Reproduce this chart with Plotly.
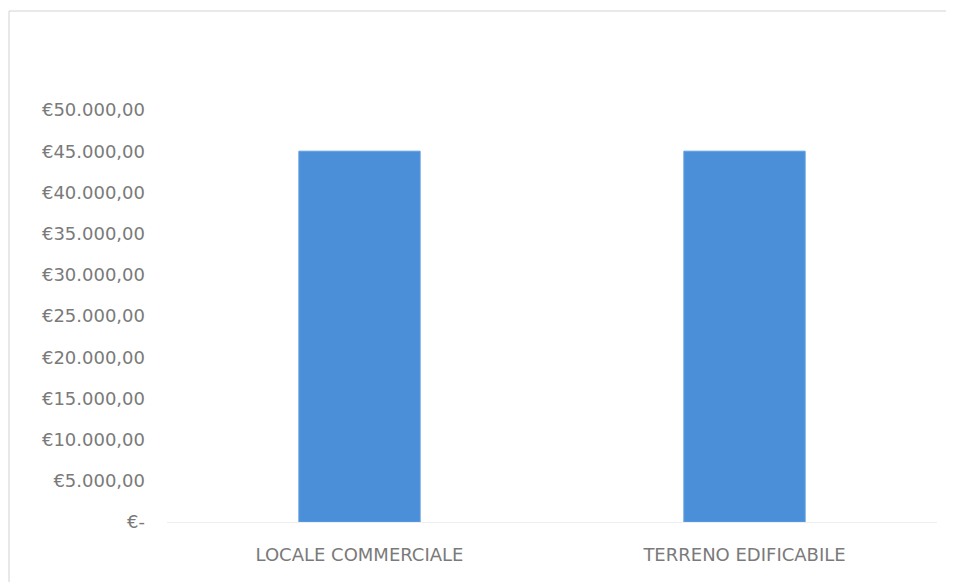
import plotly.graph_objects as go

categories = ["LOCALE COMMERCIALE", "TERRENO EDIFICABILE"]
values = [45000, 45000]
tick_vals = [0, 5000, 10000, 15000, 20000, 25000, 30000, 35000, 40000, 45000, 50000]
tick_text = ["€-", "€5.000,00", "€10.000,00", "€15.000,00", "€20.000,00", "€25.000,00",
             "€30.000,00", "€35.000,00", "€40.000,00", "€45.000,00", "€50.000,00"]

W, H = 954, 582
L, R, T, B = 159, 25, 102, 68
PW, PH = W - L - R, H - T - B

fig = go.Figure(go.Bar(x=categories, y=values,
                       marker=dict(color="#4A8FD8", line=dict(color="#5E9EE0", width=1)),
                       width=0.315))

font_fam = "DejaVu Sans, sans-serif"
fig.update_layout(
    width=W, height=H,
    margin=dict(l=L, r=R, t=T, b=B),
    paper_bgcolor="white", plot_bgcolor="white",
    showlegend=False,
    font=dict(family=font_fam, color="#7a7a7a", size=17),
)
fig.update_yaxes(range=[0, 50000], tickvals=tick_vals, ticktext=tick_text, showgrid=False,
                 zeroline=False, showline=False, ticks="", ticklabelstandoff=21,
                 tickfont=dict(size=18, color="#7a7a7a"))
fig.update_xaxes(showgrid=False, showline=True, linecolor="#eeeeee", ticks="",
                 ticklabelstandoff=16, tickfont=dict(size=18, color="#7a7a7a"))

def px(x):
    return (x - L) / PW

def py(y):
    return (H - B - y) / PH

border = "#d2d2d2"
fig.add_shape(type="line", xref="paper", yref="paper",
              x0=px(1), x1=px(W), y0=py(3), y1=py(3), line=dict(color=border, width=1))
fig.add_shape(type="line", xref="paper", yref="paper",
              x0=px(1), x1=px(1), y0=py(3), y1=py(H), line=dict(color=border, width=1))
fig.write_html("out.html")
